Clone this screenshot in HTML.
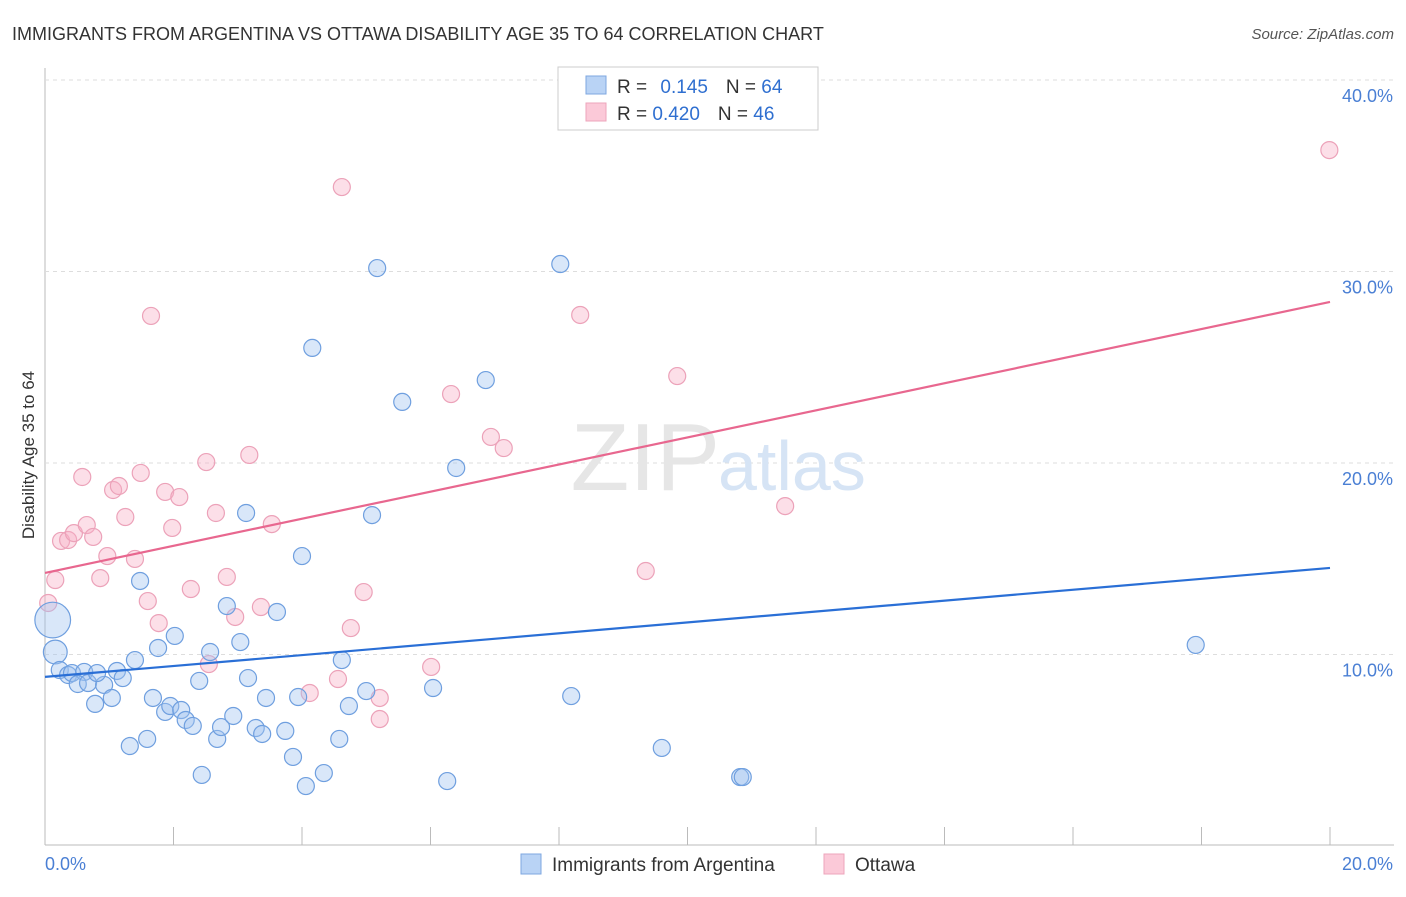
<!DOCTYPE html>
<html><head><meta charset="utf-8"><style>
body{margin:0;background:#fff;font-family:"Liberation Sans",sans-serif}
svg text{font-family:"Liberation Sans",sans-serif}
</style></head><body>
<svg width="1406" height="892">
<text x="12" y="40" font-size="18" fill="#333">IMMIGRANTS FROM ARGENTINA VS OTTAWA DISABILITY AGE 35 TO 64 CORRELATION CHART</text>
<text x="1394" y="39" font-size="15" fill="#555" font-style="italic" text-anchor="end">Source: ZipAtlas.com</text>
<g id="grid"></g>
<text x="720" y="490" font-size="96" fill="#e6e6e6" text-anchor="end" font-family="Liberation Serif">ZIP</text>
<text x="718" y="490" font-size="70" fill="#d6e4f5">atlas</text>
<text transform="translate(34,455) rotate(-90)" font-size="17" fill="#333" text-anchor="middle">Disability Age 35 to 64</text>
<g id="pts"></g>
<g id="lines"></g>
<g>
<rect x="558" y="67" width="260" height="63" fill="#fff" stroke="#ccc"/>
<rect x="586" y="76" width="20" height="18" fill="#b9d3f5" stroke="#7ea7e0"/>
<rect x="586" y="103" width="20" height="18" fill="#fbc9d8" stroke="#eea5bb"/>
<text x="617" y="93" font-size="19" fill="#333">R = <tspan fill="#2f6fd0" dx="8">0.145</tspan><tspan dx="18" fill="#333">N = </tspan><tspan fill="#2f6fd0">64</tspan></text>
<text x="617" y="120" font-size="19" fill="#333">R = <tspan fill="#2f6fd0">0.420</tspan><tspan dx="18" fill="#333">N = </tspan><tspan fill="#2f6fd0">46</tspan></text>
</g>
<g>
<rect x="521" y="854" width="20" height="20" fill="#b9d3f5" stroke="#7ea7e0"/>
<text x="552" y="871" font-size="19" fill="#333">Immigrants from Argentina</text>
<rect x="824" y="854" width="20" height="20" fill="#fbc9d8" stroke="#eea5bb"/>
<text x="855" y="871" font-size="19" fill="#333">Ottawa</text>
</g>
</svg>
<script>
const yTicks=[10,20,30,40];
const yTickLabels=["10.0%","20.0%","30.0%","40.0%"];
const xLabels=["0.0%","20.0%"];
const blueX=[0.12,0.16,0.23,0.36,0.42,0.61,0.51,0.67,0.78,0.92,1.04,1.12,1.21,1.32,1.40,1.48,1.59,1.68,1.76,1.87,1.95,2.02,2.12,2.19,2.30,2.40,2.44,2.57,2.68,2.74,2.83,2.93,3.04,3.13,3.16,3.28,3.38,3.44,3.61,3.74,3.86,3.94,4.00,4.06,4.16,4.34,4.58,4.62,4.73,5.00,5.09,5.17,5.56,6.04,6.26,6.40,6.86,8.02,8.19,9.60,10.82,10.86,17.91,0.81];
const blueY=[11.80,10.13,9.19,8.93,9.03,9.09,8.46,8.51,7.42,8.41,7.73,9.14,8.77,5.22,9.71,13.84,5.59,7.73,10.34,7.00,7.31,10.97,7.10,6.58,6.27,8.62,3.71,10.13,5.59,6.21,12.53,6.79,10.65,17.39,8.77,6.16,5.85,7.73,12.22,6.01,4.65,7.78,15.14,3.13,26.01,3.81,5.59,9.71,7.31,8.09,17.28,30.18,23.19,8.25,3.39,19.74,24.33,30.39,7.83,5.12,3.60,3.60,10.50,9.03];
const blueSize=[2.1,1.4];
const pinkX=[0.05,0.16,0.25,0.36,0.45,0.58,0.65,0.75,0.86,0.97,1.06,1.15,1.25,1.40,1.49,1.60,1.65,1.77,1.87,1.98,2.09,2.27,2.51,2.55,2.66,2.83,2.96,3.18,3.36,3.53,4.12,4.56,4.62,4.76,4.96,5.21,5.21,6.01,6.32,6.94,7.14,8.33,9.35,9.84,11.52,19.99];
const pinkY=[12.69,13.89,15.93,15.98,16.34,19.27,16.76,16.14,13.99,15.14,18.59,18.80,17.18,14.99,19.48,12.79,27.68,11.64,18.49,16.61,18.22,13.42,20.05,9.50,17.39,14.05,11.96,20.42,12.48,16.81,7.99,8.72,34.41,11.38,13.26,7.73,6.63,9.35,23.60,21.36,20.78,27.73,14.36,24.54,17.75,36.34];
const blueTrend=[8.83,14.52];
const pinkTrend=[14.26,28.41];
const X=v=>45+v*64.25, Y=v=>846-v*19.15;
const NS="http://www.w3.org/2000/svg";
function mk(t,a,p){const e=document.createElementNS(NS,t);for(const k in a)e.setAttribute(k,a[k]);p.appendChild(e);return e;}
const g=document.getElementById('grid');
let ax=mk('line',{x1:45,y1:68,x2:45,y2:845,stroke:'#bbb'},g);


let bx=mk('line',{x1:45,y1:845,x2:1394,y2:845,stroke:'#bbb'},g);


yTicks.forEach((t,i)=>{
 const l=mk('line',{x1:45,y1:Y(t),x2:1394,y2:Y(t),stroke:'#ddd','stroke-dasharray':'4,4'},g);
 
 
 const tx=mk('text',{x:1393,y:Y(t)+22,'font-size':18,fill:'#4a7fd4','text-anchor':'end'},g);
 tx.textContent=yTickLabels[i];
 
 
});
for(let i=0;i<=10;i++){
 const l=mk('line',{x1:X(i*2),y1:827,x2:X(i*2),y2:845,stroke:'#bbb'},g);
 
 
}
const xl0=mk('text',{x:45,y:870,'font-size':18,fill:'#4a7fd4'},g);xl0.textContent=xLabels[0];


const xl1=mk('text',{x:1393,y:870,'font-size':18,fill:'#4a7fd4','text-anchor':'end'},g);xl1.textContent=xLabels[1];


const P=document.getElementById('pts');
pinkX.forEach((x,i)=>{
 const c=mk('circle',{cx:X(x),cy:Y(pinkY[i]),r:8.5,fill:'rgba(248,176,198,0.4)',stroke:'#eca2b9','stroke-width':1.2},P);
 
 
});
blueX.forEach((x,i)=>{
 const r=8.5*(blueSize[i]||1);
 const c=mk('circle',{cx:X(x),cy:Y(blueY[i]),r:r,fill:'rgba(160,196,240,0.4)',stroke:'#6f9fdf','stroke-width':1.2},P);
 
 
});
const L=document.getElementById('lines');
const bl=mk('line',{x1:X(0),y1:Y(blueTrend[0]),x2:X(20),y2:Y(blueTrend[1]),stroke:'#2a6fd6','stroke-width':2.2},L);


const pl=mk('line',{x1:X(0),y1:Y(pinkTrend[0]),x2:X(20),y2:Y(pinkTrend[1]),stroke:'#e8678f','stroke-width':2.2},L);


</script>
</body></html>
